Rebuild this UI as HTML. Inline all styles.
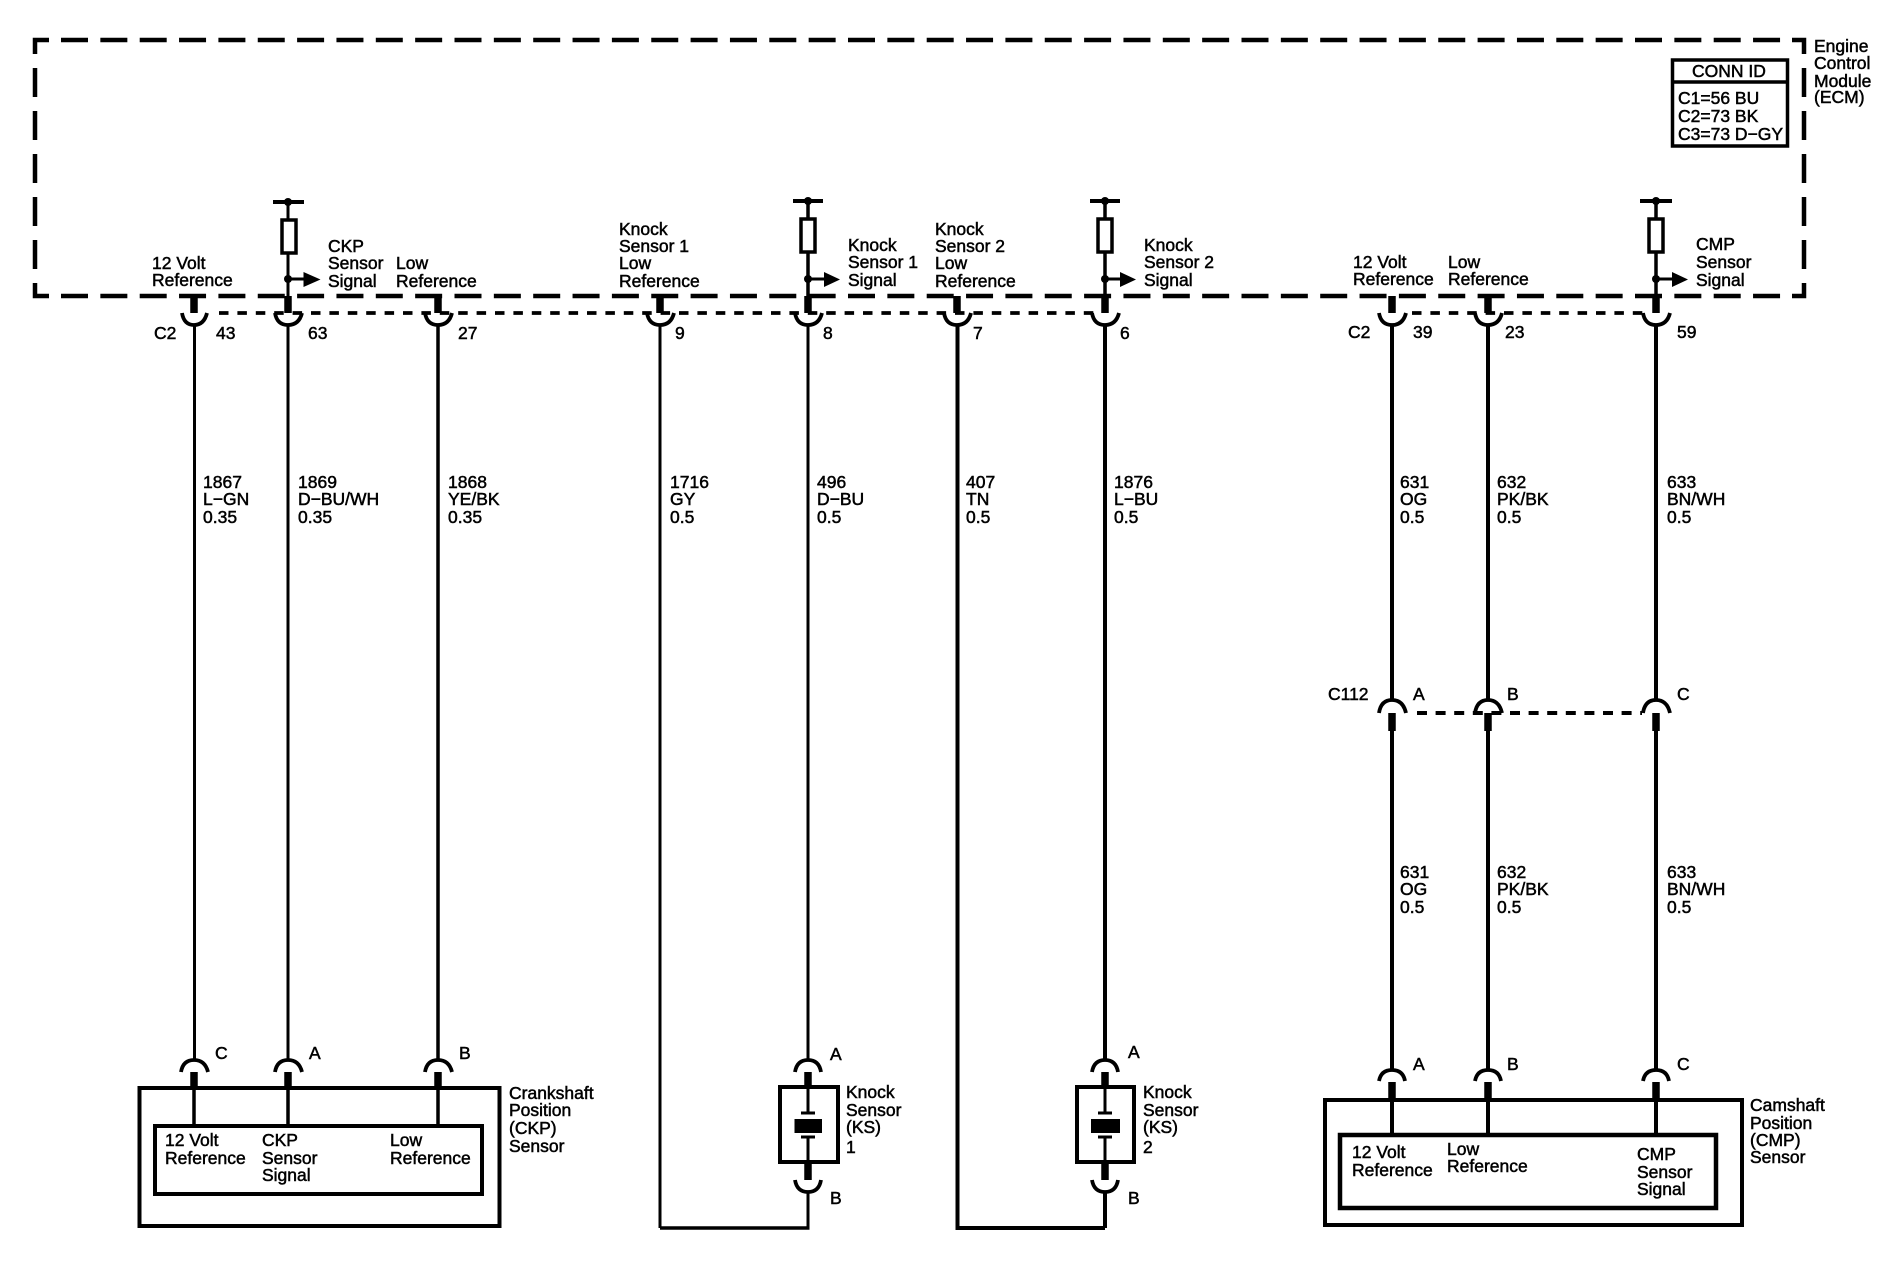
<!DOCTYPE html>
<html><head><meta charset="utf-8"><style>
html,body{margin:0;padding:0;background:#fff}
svg{display:block}
text{font-family:"Liberation Sans",sans-serif;font-size:17.5px;fill:#000;stroke:#000;stroke-width:.5px}
</style></head><body>
<svg width="1888" height="1264" viewBox="0 0 1888 1264" xmlns="http://www.w3.org/2000/svg">
<rect width="1888" height="1264" fill="#fff"/>
<!-- ECM dashed box -->
<g stroke-width="4.5" fill="none" stroke="#000">
<path d="M49 40H35V54M1792 40H1804V54M35 283V296H49M1804 283V296H1792"/>
<path d="M61 40H1781" stroke-dasharray="27 12.35"/>
<path d="M61 296H1781" stroke-dasharray="27 12.35"/>
<path d="M35 68V270" stroke-dasharray="29 14"/>
<path d="M1804 68V270" stroke-dasharray="29 14"/>
</g>
<!-- CONN ID -->
<rect x="1672.500" y="60" width="115" height="86" fill="none" stroke="#000" stroke-width="3.500"/>
<path d="M1672 82H1788" stroke="#000" stroke-width="3.500"/>
<g fill="none" stroke="#000">
<!-- small dashed links -->
<path d="M219 313H1094" stroke-width="3.800" stroke-dasharray="9.500 8.900"/>
<path d="M1412 313H1644" stroke-width="3.800" stroke-dasharray="9.500 8.900"/>
<path d="M1417 713H1642" stroke-width="4" stroke-dasharray="10 8.600"/>
<!-- main wires -->
<path d="M194.500 325V1060M288 325V1060M660 325V1228M808 325V1060M808 1192V1228" stroke-width="3"/>
<path d="M660 1228H809.500" stroke-width="3.500"/>
<path d="M438 325V1060" stroke-width="3.500"/>
<path d="M957.500 325V1228H1105M1105 325V1060M1105 1192V1228" stroke-width="4"/>
<path d="M1392 325V700M1488 325V700M1656 325V700M1392 731V1070M1488 731V1070M1656 731V1070" stroke-width="4"/>
<!-- top U connectors -->
<g stroke-width="3.800">
<path d="M182 313Q184 325 194 325Q204 325 207 313"/>
<path d="M275 313Q277 325 288 325Q299 325 302 313"/>
<path d="M425 313Q427 325 438 325Q449 325 452 313"/>
<path d="M647 313Q649 325 660 325Q671 325 674 313"/>
<path d="M795 313Q797 325 808 325Q819 325 822 313"/>
<path d="M944 313Q946 325 957 325Q968 325 971 313"/>
<path d="M1092 313Q1094 325 1105 325Q1116 325 1119 313"/>
<path d="M1379 313Q1381 325 1392 325Q1403 325 1406 313"/>
<path d="M1475 313Q1477 325 1488 325Q1499 325 1502 313"/>
<path d="M1643 313Q1645 325 1656 325Q1667 325 1670 313"/>
<!-- bottom arcs -->
<path d="M181 1072Q183 1060 194 1060Q205 1060 208 1072"/>
<path d="M275 1072Q277 1060 288 1060Q299 1060 302 1072"/>
<path d="M425 1072Q427 1060 438 1060Q449 1060 452 1072"/>
<path d="M795 1072Q797 1060 808 1060Q819 1060 821 1072"/>
<path d="M1092 1072Q1094 1060 1105 1060Q1116 1060 1118 1072"/>
<path d="M795 1180Q797 1192 808 1192Q819 1192 821 1180"/>
<path d="M1092 1180Q1094 1192 1105 1192Q1116 1192 1118 1180"/>
<!-- C112 arcs -->
<path d="M1379 713Q1381 700 1392 700Q1403 700 1406 713"/>
<path d="M1475 713Q1477 700 1488 700Q1499 700 1502 713"/>
<path d="M1643 713Q1645 700 1656 700Q1667 700 1670 713"/>
<!-- CMP bottom arcs -->
<path d="M1379 1081Q1381 1070 1392 1070Q1403 1070 1405 1081"/>
<path d="M1475 1081Q1477 1070 1488 1070Q1499 1070 1501 1081"/>
<path d="M1643 1081Q1645 1070 1656 1070Q1667 1070 1669 1081"/>
</g>
<!-- stubs -->
<g stroke-width="7.500">
<path d="M194 296V313M288 296V313M438 296V313M660 296V313M808 296V313M957 296V313M1105 296V313M1392 296V313M1488 296V313M1656 296V313"/>
<path d="M194 1072V1088M288 1072V1088M438 1072V1088M808 1072V1087M1105 1072V1087M808 1162V1180M1105 1162V1180"/>
<path d="M1392 713V731M1488 713V731M1656 713V731M1392 1082V1100M1488 1082V1100M1656 1082V1100"/>
</g>
<!-- sensor leads -->
<path d="M194 1088V1126M288 1088V1126M438 1088V1126" stroke-width="3.500"/>
<path d="M1392 1100V1135M1488 1100V1135M1656 1100V1135" stroke-width="4"/>
<!-- CKP box -->
<rect x="139.500" y="1088" width="360" height="138" stroke-width="4"/>
<rect x="155" y="1126" width="327" height="68" stroke-width="4"/>
<!-- CMP box -->
<rect x="1325" y="1100" width="417" height="125" stroke-width="4"/>
<rect x="1340" y="1135" width="376" height="73" stroke-width="4.500"/>
<!-- Knock sensors -->
<rect x="780" y="1087" width="58" height="75" stroke-width="4"/>
<rect x="1077" y="1087" width="57" height="75" stroke-width="4"/>
<path d="M808 1087V1113M808 1137V1162M1105 1087V1113M1105 1137V1162" stroke-width="3"/>
<path d="M801 1113H815M801 1137H815M1098 1113H1112M1098 1137H1112" stroke-width="3"/>
<!-- resistors top -->
<path d="M288 202V296" stroke-width="3"/>
<path d="M808 202V296M1105 202V296M1656 202V296" stroke-width="3.500"/>
<path d="M273 202H304M793 201H823M1090 201H1120M1640 201H1672" stroke-width="4"/>
<rect x="282" y="220" width="14" height="33" fill="#fff" stroke-width="3.500"/>
<rect x="801" y="219" width="14" height="33" fill="#fff" stroke-width="3.500"/>
<rect x="1098" y="219" width="14" height="33" fill="#fff" stroke-width="3.500"/>
<rect x="1649" y="219" width="14" height="33" fill="#fff" stroke-width="3.500"/>
<path d="M288 279H305M808 279H825M1105 279H1122M1656 279H1673" stroke-width="3"/>
</g>
<g fill="#000" stroke="none">
<rect x="794.500" y="1119" width="27.500" height="14"/>
<rect x="1091" y="1119" width="29" height="14"/>
<circle cx="288" cy="202" r="4"/><circle cx="808" cy="201" r="4"/><circle cx="1105" cy="201" r="4"/><circle cx="1656" cy="201" r="4"/>
<circle cx="288" cy="279" r="4"/><circle cx="808" cy="279" r="4"/><circle cx="1105" cy="279" r="4"/><circle cx="1656" cy="279" r="4"/>
<polygon points="303.500,272 320.500,279.500 303.500,287"/>
<polygon points="824,272 840,279.500 824,287"/>
<polygon points="1120,272 1136,279.500 1120,287"/>
<polygon points="1672,272 1688,279.500 1672,287"/>
</g>
<g transform="translate(-1,0)">
<!-- text: ECM -->
<text x="1815" y="52">Engine</text><text x="1815" y="69">Control</text><text x="1815" y="87">Module</text><text x="1815" y="103">(ECM)</text>
<text x="1730" y="77" text-anchor="middle">CONN ID</text>
<text x="1679" y="104">C1=56 BU</text><text x="1679" y="122">C2=73 BK</text><text x="1679" y="140">C3=73 D−GY</text>
<!-- ECM pin labels -->
<text x="153" y="269">12 Volt</text><text x="153" y="286">Reference</text>
<text x="329" y="252">CKP</text><text x="329" y="269">Sensor</text><text x="329" y="287">Signal</text>
<text x="397" y="269">Low</text><text x="397" y="287">Reference</text>
<text x="620" y="235">Knock</text><text x="620" y="252">Sensor 1</text><text x="620" y="269">Low</text><text x="620" y="287">Reference</text>
<text x="849" y="251">Knock</text><text x="849" y="268">Sensor 1</text><text x="849" y="286">Signal</text>
<text x="936" y="235">Knock</text><text x="936" y="252">Sensor 2</text><text x="936" y="269">Low</text><text x="936" y="287">Reference</text>
<text x="1145" y="251">Knock</text><text x="1145" y="268">Sensor 2</text><text x="1145" y="286">Signal</text>
<text x="1354" y="268">12 Volt</text><text x="1354" y="285">Reference</text>
<text x="1449" y="268">Low</text><text x="1449" y="285">Reference</text>
<text x="1697" y="250">CMP</text><text x="1697" y="268">Sensor</text><text x="1697" y="286">Signal</text>
<!-- pin numbers -->
<text x="155" y="339">C2</text><text x="217" y="339">43</text><text x="309" y="339">63</text><text x="459" y="339">27</text><text x="676" y="339">9</text><text x="824" y="339">8</text><text x="974" y="339">7</text><text x="1121" y="339">6</text>
<text x="1349" y="338">C2</text><text x="1414" y="338">39</text><text x="1506" y="338">23</text><text x="1678" y="338">59</text>
<!-- wire labels -->
<text x="204" y="488">1867</text><text x="204" y="505">L−GN</text><text x="204" y="523">0.35</text>
<text x="299" y="488">1869</text><text x="299" y="505">D−BU/WH</text><text x="299" y="523">0.35</text>
<text x="449" y="488">1868</text><text x="449" y="505">YE/BK</text><text x="449" y="523">0.35</text>
<text x="671" y="488">1716</text><text x="671" y="505">GY</text><text x="671" y="523">0.5</text>
<text x="818" y="488">496</text><text x="818" y="505">D−BU</text><text x="818" y="523">0.5</text>
<text x="967" y="488">407</text><text x="967" y="505">TN</text><text x="967" y="523">0.5</text>
<text x="1115" y="488">1876</text><text x="1115" y="505">L−BU</text><text x="1115" y="523">0.5</text>
<text x="1401" y="488">631</text><text x="1401" y="505">OG</text><text x="1401" y="523">0.5</text>
<text x="1498" y="488">632</text><text x="1498" y="505">PK/BK</text><text x="1498" y="523">0.5</text>
<text x="1668" y="488">633</text><text x="1668" y="505">BN/WH</text><text x="1668" y="523">0.5</text>
<text x="1401" y="878">631</text><text x="1401" y="895">OG</text><text x="1401" y="913">0.5</text>
<text x="1498" y="878">632</text><text x="1498" y="895">PK/BK</text><text x="1498" y="913">0.5</text>
<text x="1668" y="878">633</text><text x="1668" y="895">BN/WH</text><text x="1668" y="913">0.5</text>
<!-- C112 -->
<text x="1329" y="700">C112</text><text x="1414" y="700">A</text><text x="1508" y="700">B</text><text x="1678" y="700">C</text>
<!-- CKP sensor -->
<text x="216" y="1059">C</text><text x="310" y="1059">A</text><text x="460" y="1059">B</text>
<text x="166" y="1146">12 Volt</text><text x="166" y="1164">Reference</text>
<text x="263" y="1146">CKP</text><text x="263" y="1164">Sensor</text><text x="263" y="1181">Signal</text>
<text x="391" y="1146">Low</text><text x="391" y="1164">Reference</text>
<text x="510" y="1099">Crankshaft</text><text x="510" y="1116">Position</text><text x="510" y="1134">(CKP)</text><text x="510" y="1152">Sensor</text>
<!-- Knock sensors -->
<text x="831" y="1060">A</text><text x="831" y="1204">B</text>
<text x="847" y="1098">Knock</text><text x="847" y="1116">Sensor</text><text x="847" y="1133">(KS)</text><text x="847" y="1153">1</text>
<text x="1129" y="1058">A</text><text x="1129" y="1204">B</text>
<text x="1144" y="1098">Knock</text><text x="1144" y="1116">Sensor</text><text x="1144" y="1133">(KS)</text><text x="1144" y="1153">2</text>
<!-- CMP sensor -->
<text x="1414" y="1070">A</text><text x="1508" y="1070">B</text><text x="1678" y="1070">C</text>
<text x="1353" y="1158">12 Volt</text><text x="1353" y="1176">Reference</text>
<text x="1448" y="1155">Low</text><text x="1448" y="1172">Reference</text>
<text x="1638" y="1160">CMP</text><text x="1638" y="1178">Sensor</text><text x="1638" y="1195">Signal</text>
<text x="1751" y="1111">Camshaft</text><text x="1751" y="1129">Position</text><text x="1751" y="1146">(CMP)</text><text x="1751" y="1163">Sensor</text>
</g>
</svg>
</body></html>
